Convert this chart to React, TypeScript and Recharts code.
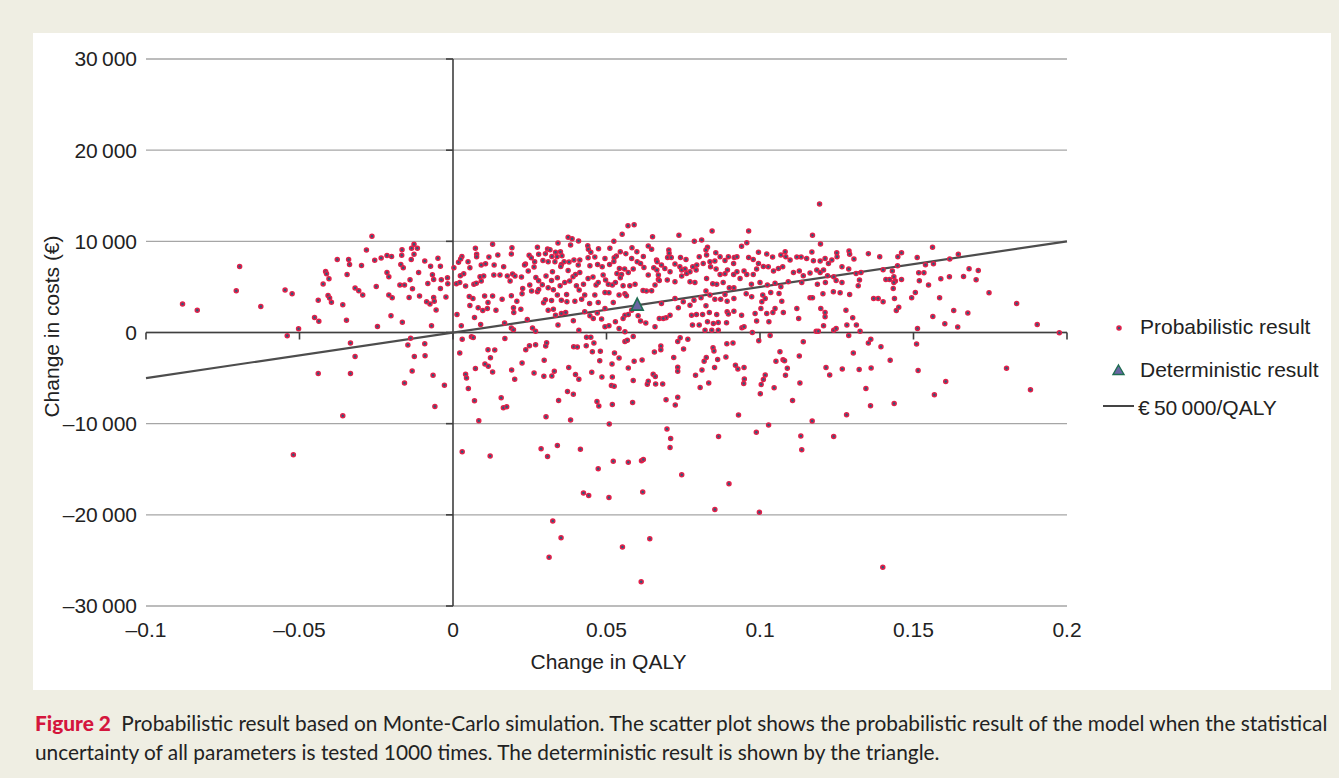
import React from 'react';
import { ScatterChart, Scatter, XAxis, YAxis, CartesianGrid, ReferenceLine, Legend } from 'recharts';

// axis ticks
const xTicks = [-0.1, -0.05, 0, 0.05, 0.1, 0.15, 0.2];
const yTicks = [-30000, -20000, -10000, 0, 10000, 20000, 30000];

// willingness to pay (€ per QALY)
const wtpThreshold = 50000;

// base case
const deterministicResult: [number, number] = [0.06, 3000];

// Monte-Carlo draws [change in QALY, change in costs]
const probabilisticLeft: [number, number][] = [
  [-0.0264, 10550], [-0.0282, 9050], [-0.0127, 9670], [-0.0135, 9240], [-0.0116, 9240], [-0.0166, 9090], [-0.0167, 8470],
  [-0.0127, 8580], [-0.0136, 8000], [-0.0377, 8000], [-0.034, 8000], [-0.0337, 7450], [-0.0234, 8180], [-0.0215, 8440],
  [-0.02, 8330], [-0.0255, 7930], [-0.0298, 7350], [-0.0695, 7240], [-0.0092, 7850], [-0.0049, 8150], [-0.0073, 7270],
  [-0.0041, 7270], [-0.017, 7450], [-0.0162, 7090], [-0.0415, 6690], [-0.0412, 6440], [-0.0404, 5890], [-0.0423, 5310],
  [-0.0345, 6360], [-0.0215, 6580], [-0.0209, 6110], [-0.0112, 6580], [-0.014, 5780], [-0.0067, 6330], [-0.0063, 5820],
  [-0.0038, 5780], [-0.0018, 6000], [-0.0017, 5350], [-0.0041, 4840], [-0.0082, 5380], [-0.0173, 5200], [-0.0158, 5200],
  [-0.025, 5050], [-0.0319, 4870], [-0.0307, 4580], [-0.0294, 4110], [-0.0209, 4110], [-0.0198, 3820], [-0.0132, 4800],
  [-0.0143, 3850], [-0.0109, 4000], [-0.0086, 3380], [-0.0075, 3130], [-0.0063, 3850], [-0.0061, 3420], [-0.0023, 3890],
  [-0.0055, 2470], [-0.0407, 4070], [-0.0402, 3780], [-0.0396, 3310], [-0.0439, 3530], [-0.0359, 3050], [-0.0547, 4650],
  [-0.0524, 4250], [-0.0706, 4580], [-0.0881, 3130], [-0.0833, 2440], [-0.0626, 2840], [-0.0451, 1640], [-0.0437, 1240],
  [-0.0347, 1350], [-0.0246, 650], [-0.0202, 1850], [-0.0165, 1130], [-0.007, 730], [-0.0503, 400], [-0.054, -360],
  [0.0018, 7710], [-0.0138, -620], [-0.0147, -1380], [-0.0092, -1240], [-0.0334, -1160], [-0.0319, -2620],
  [-0.0126, -2620], [-0.0091, -2550], [-0.0439, -4510], [-0.0334, -4510], [-0.0133, -4220], [-0.0065, -4690],
  [-0.0158, -5530], [-0.0028, -5780], [-0.0059, -8110], [-0.0359, -9130], [-0.052, -13420],
];

const probabilisticCentre: [number, number][] = [
  [0.057, 11720], [0.059, 11830], [0.0551, 10770], [0.065, 10510], [0.0375, 10440], [0.0388, 10290], [0.0409, 10040],
  [0.0524, 10000], [0.0342, 9820], [0.0129, 9670], [0.0383, 9600], [0.0439, 9520], [0.0073, 9230], [0.0192, 9300],
  [0.0275, 9340], [0.0308, 9160], [0.0316, 9080], [0.0334, 8790], [0.035, 8860], [0.0355, 8430], [0.0339, 8320],
  [0.0322, 8350], [0.0301, 8650], [0.0279, 8570], [0.0077, 8570], [0.0077, 8320], [0.0029, 8350], [0.0025, 8060],
  [0.0049, 7770], [0.0117, 8280], [0.0146, 8500], [0.019, 8610], [0.0248, 8460], [0.0255, 8210], [0.0441, 9120],
  [0.0449, 8790], [0.0474, 9190], [0.0511, 9230], [0.0545, 8860], [0.0563, 8650], [0.0583, 9300], [0.0599, 8860],
  [0.0636, 9490], [0.0647, 9120], [0.062, 8350], [0.0582, 8130], [0.0532, 8390], [0.0525, 8210], [0.0495, 8130],
  [0.0462, 8280], [0.044, 8210], [0.0413, 7950], [0.0394, 7950], [0.0378, 7730], [0.0362, 7770], [0.0353, 7470],
  [0.0332, 7770], [0.031, 7770], [0.0293, 7910], [0.0266, 7770], [0.0236, 7510], [0.0233, 7400], [0.0264, 7180],
  [0.0106, 7550], [0.0092, 7400], [0.0134, 7400], [0.0165, 7220], [0.0003, 7110], [0.0055, 7110], [0.0324, 6670],
  [0.0351, 7250], [0.0375, 6810], [0.0408, 7400], [0.0413, 6590], [0.0446, 7330], [0.0471, 7470], [0.0486, 7220],
  [0.051, 7470], [0.0524, 7800], [0.0542, 7030], [0.0559, 6960], [0.0587, 6960], [0.06, 7770], [0.0611, 7580],
  [0.0622, 7140], [0.0654, 7110], [0.0663, 7950], [0.0664, 6850], [0.0534, 6480], [0.0549, 6370], [0.0571, 6590],
  [0.0636, 6300], [0.0035, 6450], [0.0024, 6230], [0.0011, 5350], [0.0022, 5490], [0.0041, 5090], [0.0068, 5280],
  [0.0076, 5390], [0.0088, 6120], [0.01, 6190], [0.0092, 5640], [0.0133, 6300], [0.0153, 6300], [0.0177, 6190],
  [0.0194, 6410], [0.0202, 6190], [0.0186, 5640], [0.0223, 6080], [0.0245, 6740], [0.025, 5200], [0.027, 6040],
  [0.0279, 5680], [0.0291, 5240], [0.0303, 6190], [0.031, 4910], [0.0321, 5710], [0.0327, 4690], [0.034, 6010],
  [0.0349, 5130], [0.0364, 5490], [0.038, 5640], [0.0391, 6120], [0.0399, 6370], [0.037, 4180], [0.0402, 5130],
  [0.0411, 4650], [0.0425, 5280], [0.044, 5930], [0.0456, 6080], [0.0466, 5200], [0.0473, 5490], [0.0489, 6300],
  [0.0497, 5750], [0.0506, 5280], [0.0519, 5200], [0.0529, 5490], [0.0545, 6010], [0.0554, 5130], [0.056, 4250],
  [0.0576, 5130], [0.0593, 5280], [0.0619, 4620], [0.063, 4540], [0.0647, 4580], [0.0658, 5200], [0.0669, 5820],
  [0.0495, 4400], [0.0508, 4360], [0.0462, 4100], [0.0429, 4100], [0.0053, 3960], [0.0065, 3740], [0.0103, 3990],
  [0.0129, 3990], [0.016, 3660], [0.0114, 3300], [0.019, 4030], [0.0225, 4250], [0.0208, 3440], [0.0227, 4840],
  [0.0256, 4540], [0.0275, 4470], [0.0279, 4730], [0.0295, 3260], [0.0301, 3590], [0.0321, 3520], [0.034, 4100],
  [0.0353, 3550], [0.0371, 3370], [0.0397, 3440], [0.0419, 3660], [0.0445, 3190], [0.0473, 3300], [0.0495, 2640],
  [0.0522, 3300], [0.0541, 4100], [0.0565, 4030], [0.0013, 1980], [0.0055, 2970], [0.007, 1650], [0.0082, 2710],
  [0.0097, 2420], [0.0112, 2640], [0.014, 2450], [0.0197, 2710], [0.0198, 2200], [0.0221, 2560], [0.0168, 1030],
  [0.009, 880], [0.0027, 730], [0.019, 480], [0.0197, 290], [0.0242, 1430], [0.0259, 480], [0.0269, 150],
  [0.031, 2450], [0.0327, 2560], [0.0334, 1900], [0.0353, 2090], [0.0367, 2200], [0.0342, 810], [0.0392, 1280],
  [0.041, 260], [0.0429, 2270], [0.0446, 1830], [0.0457, 1540], [0.047, 2130], [0.0484, 1470], [0.0495, 620],
  [0.0508, 730], [0.0529, 1170], [0.0541, 440], [0.056, 1900], [0.0571, 1980], [0.0554, 1540], [0.0582, 2450],
  [0.0603, 1830], [0.0611, 1250], [0.0628, 1030], [0.0658, 620], [0.056, 70],
];

const probabilisticRight: [number, number][] = [
  [0.1194, 14100], [0.0736, 10660], [0.0844, 11140], [0.0963, 11140], [0.1171, 10660], [0.1197, 9710], [0.0786, 10000],
  [0.081, 10150], [0.094, 9450], [0.0957, 9850], [0.0829, 9340], [0.0824, 9050], [0.0703, 9050], [0.0704, 8680],
  [0.0699, 8240], [0.0711, 8240], [0.0741, 8240], [0.0759, 8020], [0.0802, 8320], [0.0826, 8500], [0.0856, 8760],
  [0.087, 8320], [0.0897, 8320], [0.0916, 8240], [0.0925, 8320], [0.0886, 7910], [0.0914, 7580], [0.0963, 8240],
  [0.0978, 8020], [0.0995, 8790], [0.1022, 8610], [0.1041, 8280], [0.1068, 8500], [0.1082, 8860], [0.1084, 8320],
  [0.1098, 7950], [0.112, 8280], [0.1134, 8280], [0.1152, 8130], [0.1169, 8830], [0.1174, 7880], [0.1196, 7840],
  [0.1212, 8130], [0.1223, 7580], [0.1234, 7950], [0.125, 8760], [0.1251, 8320], [0.129, 8940], [0.1292, 8570],
  [0.1306, 8060], [0.1267, 7220], [0.1289, 6960], [0.1313, 6480], [0.1329, 6590], [0.0665, 7770], [0.0679, 7400],
  [0.069, 7030], [0.0707, 6670], [0.0723, 7510], [0.0739, 7220], [0.0745, 6850], [0.0756, 6960], [0.0761, 6480],
  [0.0772, 6670], [0.0781, 7220], [0.0792, 6850], [0.0794, 7400], [0.0815, 7580], [0.0837, 7770], [0.0839, 7220],
  [0.0853, 7840], [0.0857, 6960], [0.087, 6370], [0.0886, 6450], [0.0894, 6850], [0.0914, 6370], [0.0925, 6670],
  [0.0948, 6740], [0.0957, 6370], [0.0978, 6370], [0.0989, 6960], [0.0995, 7580], [0.1011, 7250], [0.1027, 7220],
  [0.1044, 6740], [0.106, 7030], [0.1074, 7220], [0.1109, 6590], [0.1128, 6740], [0.1141, 6230], [0.1163, 6520],
  [0.1185, 6850], [0.1196, 6590], [0.1207, 6850], [0.122, 6230], [0.124, 6120], [0.0669, 6300], [0.0672, 5710],
  [0.0698, 5750], [0.0723, 5570], [0.0745, 6190], [0.0772, 5570], [0.0788, 5490], [0.0826, 5930], [0.0846, 5350],
  [0.0859, 5280], [0.088, 5490], [0.09, 4910], [0.0915, 4910], [0.0935, 5930], [0.0972, 5280], [0.1, 5490],
  [0.1024, 5200], [0.1049, 5390], [0.1068, 5020], [0.1092, 5570], [0.1136, 5490], [0.1187, 5280], [0.1213, 5490],
  [0.1248, 5710], [0.1267, 5490], [0.1324, 5750], [0.132, 5130], [0.0824, 4540], [0.0886, 4180], [0.0955, 4250],
  [0.0973, 3920], [0.0915, 3740], [0.0893, 3440], [0.0872, 3660], [0.0853, 3660], [0.0837, 4100], [0.0723, 3740],
  [0.075, 3370], [0.0772, 3000], [0.0785, 3550], [0.0808, 3810], [0.0679, 3190], [0.1009, 4100], [0.1017, 3740],
  [0.1006, 3370], [0.1035, 4400], [0.1062, 4290], [0.1071, 3440], [0.1163, 3810], [0.1171, 3810], [0.1205, 4250],
  [0.1239, 4470], [0.1261, 4360], [0.1292, 4180], [0.0734, 2710], [0.0707, 1900], [0.0694, 1610], [0.0685, 1540],
  [0.0672, 1540], [0.0777, 1900], [0.0793, 1980], [0.0813, 1980], [0.0835, 2200], [0.0824, 2930], [0.0859, 1980],
  [0.0893, 2270], [0.0897, 2020], [0.0915, 2340], [0.094, 1900], [0.0984, 2090], [0.1003, 2640], [0.1022, 2090],
  [0.1042, 2200], [0.1049, 2640], [0.1076, 2200], [0.112, 2640], [0.1198, 2640], [0.1212, 2200], [0.1212, 1720],
  [0.128, 2450], [0.1302, 1610], [0.078, 810], [0.0802, 810], [0.0829, 1170], [0.0848, 990], [0.0864, 1100],
  [0.0821, 260], [0.0843, 260], [0.0864, 260], [0.0891, 1060], [0.0941, 510], [0.0948, 620], [0.0989, 1250],
  [0.1029, 1170], [0.1126, 1540], [0.1207, 730], [0.124, 260], [0.1248, 440], [0.1283, 810], [0.1314, 810],
  [0.1183, 150], [0.119, 150], [0.1326, 150], [0.0975, 0],
  [0.1562, 9340], [0.1353, 8650], [0.139, 8320], [0.1449, 8320], [0.1461, 8760], [0.1512, 8240], [0.1646, 8570],
  [0.1618, 8060], [0.1401, 6890], [0.1448, 7330], [0.1431, 6740], [0.1539, 7440], [0.1565, 7550], [0.1681, 7000],
  [0.1711, 6810], [0.141, 5820], [0.1422, 5820], [0.1436, 6120], [0.1441, 5640], [0.1436, 5490], [0.1461, 5820],
  [0.1517, 6560], [0.1534, 6560], [0.1519, 5680], [0.1589, 5900], [0.1617, 6120], [0.1663, 6150], [0.1704, 5790],
  [0.1549, 5200], [0.1434, 4840], [0.1506, 4400], [0.137, 3740], [0.1385, 3740], [0.1401, 3370], [0.1438, 3740],
  [0.1494, 3810], [0.1585, 3810], [0.1746, 4360], [0.1836, 3190], [0.1444, 2420], [0.1452, 2780], [0.1631, 2420],
  [0.1677, 2130], [0.1563, 1760], [0.1602, 950], [0.1644, 590], [0.1513, 440], [0.1903, 880], [0.1975, -40],
];

const probabilisticBelow: [number, number][] = [
  [0.003, -730], [0.0022, -2250], [0.006, -470], [0.0066, -550], [0.0169, -650], [0.0041, -4580], [0.0044, -4980],
  [0.005, -6150], [0.0073, -3960], [0.007, -7490], [0.0084, -9670], [0.0104, -3450], [0.0114, -1890], [0.0122, -2760],
  [0.0115, -3710], [0.0129, -4330], [0.0136, -1930], [0.0157, -7160], [0.0164, -8250], [0.0175, -8150], [0.0191, -4110],
  [0.0201, -5130], [0.0225, -3350], [0.0237, -1890], [0.0249, -1450], [0.0269, -1350], [0.0264, -4440], [0.0297, -3050],
  [0.0296, -4800], [0.0302, -1490], [0.0305, -1130], [0.0303, -9240], [0.0322, -4760], [0.033, -4250], [0.0344, -7450],
  [0.0377, -3850], [0.0373, -6470], [0.0383, -9600], [0.0392, -6760], [0.0393, -1560], [0.0405, -1600], [0.0399, -4620],
  [0.041, -5130], [0.0435, -510], [0.0449, -510], [0.0434, -1450], [0.0459, -1160], [0.0454, -2110], [0.048, -2070],
  [0.0478, -3090], [0.0452, -4360], [0.0485, -4870], [0.0469, -7560], [0.0475, -8070], [0.0518, -3450], [0.0519, -4870],
  [0.0516, -5820], [0.0525, -5890], [0.0519, -7890], [0.0526, -2250], [0.0541, -2800], [0.0509, -10040], [0.056, -980],
  [0.0568, -840], [0.0587, -440], [0.0571, -3890], [0.059, -3160], [0.0587, -5270], [0.0585, -7670], [0.0616, -3020],
  [0.0633, -5670], [0.0636, -5350], [0.0652, -4580], [0.0659, -4840], [0.0656, -2150], [0.066, -5640], [0.0683, -5640],
  [0.0677, -1490], [0.0677, -1890], [0.0694, -7380], [0.0719, -2730], [0.0724, -7960], [0.0732, -7090], [0.0732, -3820],
  [0.0732, -4250], [0.0732, -980], [0.074, -580], [0.0751, -1820], [0.0765, -730], [0.079, -4690], [0.0805, -6040],
  [0.0811, -4110], [0.0818, -3160], [0.0825, -2730], [0.0833, -5530], [0.0847, -1670], [0.085, -2040], [0.0852, -3850],
  [0.0862, -2950], [0.0889, -2690], [0.0892, -1240], [0.0912, -1160], [0.092, -3600], [0.0928, -4000], [0.0948, -3850],
  [0.0949, -5090], [0.0947, -5600], [0.093, -9050], [0.0996, -910], [0.1004, -5710], [0.1001, -6730],
  [0.0697, -10580], [0.0709, -11640], [0.0707, -12620], [0.003, -13090], [0.0121, -13560], [0.0287, -12760],
  [0.0308, -13600], [0.034, -12400], [0.0415, -12800], [0.0473, -14950], [0.0522, -14110], [0.0571, -14220],
  [0.0614, -14070], [0.062, -13930], [0.0425, -17600], [0.0442, -17890], [0.0508, -18110], [0.0618, -17490],
  [0.0745, -15600], [0.0865, -11420], [0.0899, -16580], [0.0853, -19420], [0.0988, -10950], [0.0998, -19710],
  [0.0325, -20690], [0.0352, -22510], [0.0313, -24650], [0.0552, -23530], [0.0641, -22620], [0.0613, -27350],
  [0.1033, -330], [0.1141, -1020], [0.1065, -2110], [0.1052, -3160], [0.1075, -2980], [0.108, -3090], [0.1128, -2580],
  [0.1089, -3930], [0.1083, -4690], [0.1017, -4650], [0.1011, -5160], [0.1046, -6070], [0.113, -5530], [0.1106, -7450],
  [0.1215, -3850], [0.1227, -4650], [0.1268, -4000], [0.1304, -2250], [0.1289, -330], [0.1353, -1160], [0.1361, -730],
  [0.1394, -1560], [0.1424, -3050], [0.1323, -4070], [0.1362, -3890], [0.1345, -6150], [0.136, -8040], [0.1437, -7780],
  [0.1282, -9020], [0.151, -1270], [0.1515, -4180], [0.1568, -6840], [0.1605, -5380], [0.1803, -3930], [0.1881, -6290],
  [0.1028, -10150], [0.117, -9710], [0.1133, -11350], [0.1136, -12870], [0.124, -11420], [0.14, -25750],
];

const legendLabels = ['Probabilistic result', 'Deterministic result', '€\u200950\u2009000/QALY'];

const FONT = '"Liberation Sans", Arial, Helvetica, sans-serif';
const RED = '#e2204a';
const AXIS = '#3f3f3f';

const probabilisticData = [...probabilisticLeft, ...probabilisticCentre, ...probabilisticRight, ...probabilisticBelow].map(
  ([q, c]) => ({ q, c })
);
const deterministicData = [{ q: deterministicResult[0], c: deterministicResult[1] }];

const fmtX = (v: number) => (v < 0 ? `\u2013${Math.abs(v)}` : `${v}`);
const fmtY = (v: number) => {
  if (v === 0) return '0';
  const s = Math.abs(v).toLocaleString('en-US').replace(',', '\u2009');
  return v < 0 ? `\u2013${s}` : s;
};

const ProbDot = (props: any) => (
  <circle cx={props.cx} cy={props.cy} r={2} fill="#2f5a78" stroke={RED} strokeWidth={1.5} />
);

const DetTriangle = (props: any) => {
  const { cx, cy } = props;
  return (
    <polygon
      points={`${cx},${cy - 7} ${cx + 6},${cy + 5} ${cx - 6},${cy + 5}`}
      fill="#6a66a3"
      stroke="#1f6d52"
      strokeWidth={1.6}
    />
  );
};

// zero line carries the x ticks (pointing down)
const ZeroLineX = (props: any) => {
  const x1 = Math.min(props.x1, props.x2);
  const x2 = Math.max(props.x1, props.x2);
  const y = props.y1;
  const n = xTicks.length - 1;
  return (
    <g>
      <line x1={x1} x2={x2} y1={y} y2={y} stroke={AXIS} strokeWidth={1.6} />
      {xTicks.map((t, i) => (
        <line key={t} x1={x1 + ((x2 - x1) * i) / n} x2={x1 + ((x2 - x1) * i) / n} y1={y} y2={y + 7} stroke={AXIS} strokeWidth={1.6} />
      ))}
    </g>
  );
};

// vertical axis at x = 0 with ticks pointing left
const ZeroLineY = (props: any) => {
  const y1 = Math.min(props.y1, props.y2);
  const y2 = Math.max(props.y1, props.y2);
  const x = props.x1;
  const n = yTicks.length - 1;
  return (
    <g>
      <line x1={x} x2={x} y1={y1} y2={y2} stroke={AXIS} strokeWidth={1.6} />
      {yTicks.map((t, i) => (
        <line key={t} x1={x - 7} x2={x} y1={y1 + ((y2 - y1) * i) / n} y2={y1 + ((y2 - y1) * i) / n} stroke={AXIS} strokeWidth={1.6} />
      ))}
    </g>
  );
};

const LegendBox = () => (
  <svg width={260} height={130} style={{ display: 'block', overflow: 'visible' }}>
    <circle cx={26} cy={25} r={2} fill="#2f5a78" stroke={RED} strokeWidth={1.5} />
    <text x={47} y={30.5} fontSize={21} fontFamily={FONT} fill="#222">{legendLabels[0]}</text>
    <polygon points="25.5,62 31,71.5 20,71.5" fill="#6a66a3" stroke="#1f6d52" strokeWidth={1.4} />
    <text x={47} y={73.5} fontSize={21} fontFamily={FONT} fill="#222">{legendLabels[1]}</text>
    <line x1={10} x2={41} y1={103} y2={103} stroke="#444" strokeWidth={2} />
    <text x={45} y={111.5} fontSize={21} fontFamily={FONT} fill="#222">{legendLabels[2]}</text>
  </svg>
);

const YTitle = (props: any) => {
  const vb = props.viewBox || { x: 0, y: 26, height: 547 };
  const x = vb.x + 26;
  const y = vb.y + vb.height / 2 - 6;
  return (
    <text x={x} y={y} transform={`rotate(-90 ${x} ${y})`} textAnchor="middle" fontSize={21} fontFamily={FONT} fill="#222">
      Change in costs (€)
    </text>
  );
};

const XTitle = (props: any) => {
  const vb = props.viewBox || { x: 113, y: 573, width: 921 };
  return (
    <text x={vb.x + vb.width / 2 + 2} y={vb.y + 62.5} textAnchor="middle" fontSize={21} fontFamily={FONT} fill="#222">
      Change in QALY
    </text>
  );
};

export default function App() {
  const tickStyle = { fontSize: 21, fill: '#222', fontFamily: FONT };
  return (
    <div style={{ position: 'absolute', left: 0, top: 0, width: 1339, height: 778, background: '#efeee3', overflow: 'hidden' }}>
      <div style={{ position: 'absolute', left: 33, top: 33, width: 1298, height: 657, background: '#fff' }}>
        <ScatterChart width={1298} height={657} margin={{ top: 26, right: 264, bottom: 0, left: 0 }}>
          <CartesianGrid vertical={false} stroke="#a6a6a6" strokeWidth={1.4} />
          <XAxis
            type="number"
            dataKey="q"
            domain={[-0.1, 0.2]}
            ticks={xTicks}
            tickFormatter={fmtX}
            axisLine={false}
            tickLine={false}
            tickSize={0}
            tickMargin={16}
            height={84}
            tick={tickStyle}
            allowDataOverflow
            label={<XTitle />}
          />
          <YAxis
            type="number"
            dataKey="c"
            domain={[-30000, 30000]}
            ticks={yTicks}
            tickFormatter={fmtY}
            axisLine={false}
            tickLine={false}
            tickSize={0}
            tickMargin={9}
            width={113}
            tick={tickStyle}
            allowDataOverflow
            label={<YTitle />}
          />
          <ReferenceLine x={0} shape={<ZeroLineY />} />
          <ReferenceLine y={0} shape={<ZeroLineX />} />
          <Scatter name="Probabilistic result" data={probabilisticData} shape={<ProbDot />} isAnimationActive={false} />
          <ReferenceLine
            segment={[
              { x: xTicks[0], y: xTicks[0] * wtpThreshold },
              { x: xTicks[xTicks.length - 1], y: xTicks[xTicks.length - 1] * wtpThreshold },
            ]}
            stroke="#4d4d4d"
            strokeWidth={2.2}
          />
          <Scatter name="Deterministic result" data={deterministicData} shape={<DetTriangle />} isAnimationActive={false} />
          <Legend
            verticalAlign="middle"
            align="center"
            content={() => <LegendBox />}
            wrapperStyle={{ position: 'absolute', left: 1060, top: 270, width: 260, height: 130 }}
          />
        </ScatterChart>
      </div>
      <div
        style={{
          position: 'absolute',
          left: 35,
          top: 708,
          fontFamily: 'Lato, "Open Sans", sans-serif',
          fontSize: 20.85,
          lineHeight: '29px',
          color: '#222',
          whiteSpace: 'nowrap',
        }}
      >
        <div>
          <span style={{ color: '#d4163d', fontWeight: 900 }}>Figure 2</span>
          {'\u2002'}Probabilistic result based on Monte-Carlo simulation. The scatter plot shows the probabilistic result of the
          model when the statistical
        </div>
        <div>uncertainty of all parameters is tested 1000 times. The deterministic result is shown by the triangle.</div>
      </div>
    </div>
  );
}
